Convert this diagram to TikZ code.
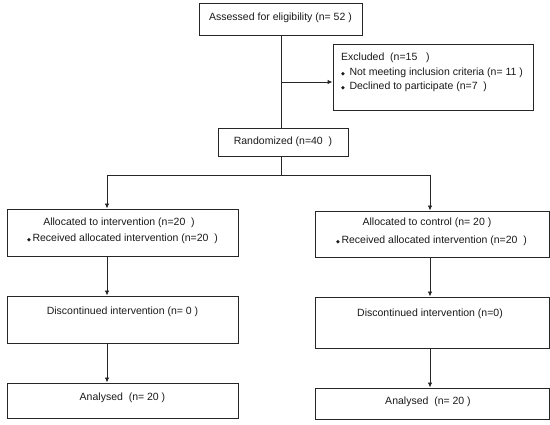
\documentclass[tikz,border=0pt]{standalone}
\usepackage{fontspec}
\setmainfont{Liberation Sans}
\newfontfamily\symf{DejaVu Sans}
\usetikzlibrary{arrows.meta}
\newcommand{\dbul}{{\symf\fontsize{5}{5}\selectfont ◆}}
\begin{document}
\begin{tikzpicture}[x=1pt,y=-1pt,
  box/.style={draw=black!85,line width=0.9pt,rectangle,inner sep=0pt},
  txt/.style={inner sep=0pt,font=\fontsize{10.5}{12}\selectfont,text=black!90},
  arr/.style={draw=black!85,line width=0.9pt,-{Latex[length=5pt,width=4.5pt]}},
  ln/.style={draw=black!85,line width=0.9pt}]
\useasboundingbox (0,0) rectangle (550,425);
% boxes
\node[box,minimum width=163pt,minimum height=32pt] (assess) at (280.5,19) {};
\node[box,minimum width=200pt,minimum height=66pt] (excl) at (433,77) {};
\node[box,minimum width=130pt,minimum height=28pt] (rand) at (283,142) {};
\node[box,minimum width=231pt,minimum height=47pt] (la) at (122.5,232.5) {};
\node[box,minimum width=231pt,minimum height=47pt] (ld) at (122.5,319.5) {};
\node[box,minimum width=231pt,minimum height=35pt] (lan) at (122.5,400.5) {};
\node[box,minimum width=234pt,minimum height=46pt] (ra) at (432,234) {};
\node[box,minimum width=234pt,minimum height=51pt] (rd) at (432,322.5) {};
\node[box,minimum width=234pt,minimum height=31pt] (ran) at (432,403.5) {};
% texts
\node[txt] (t1) at (280.5,18) {Assessed for eligibility (n= 52 )};
\node[txt,anchor=west] (t2) at (341,58) {Excluded \ (n=15 \ \ )};
\node[txt,anchor=west] (t3) at (341,73) {\dbul\hspace{4.5pt}Not meeting inclusion criteria (n= 11 )};
\node[txt,anchor=west] (t4) at (341,87) {\dbul\hspace{4.5pt}Declined to participate (n=7 \ )};
\node[txt] (t5) at (283,142) {Randomized (n=40 \ )};
\node[txt] (t6) at (119,223) {Allocated to intervention (n=20 \ )};
\node[txt,anchor=west] (t7) at (27,239) {\dbul\hspace{1.5pt}Received allocated intervention (n=20 \ )};
\node[txt] (t8) at (122.5,312) {Discontinued intervention (n= 0 )};
\node[txt] (t9) at (122.5,398) {Analysed \ (n= 20 )};
\node[txt] (t10) at (427,223) {Allocated to control (n= 20 )};
\node[txt,anchor=west] (t11) at (336,240.5) {\dbul\hspace{1.5pt}Received allocated intervention (n=20 \ )};
\node[txt] (t12) at (430,314) {Discontinued intervention (n=0)};
\node[txt] (t13) at (428,402) {Analysed \ (n= 20 )};
% connectors
\coordinate (br) at (281,82);
\coordinate (sp) at (281,175);
\coordinate (lc) at (107,175);
\coordinate (rc) at (430,175);
\draw[ln] (assess.south -| br) -- (rand.north -| br);
\draw[arr] (br) -- (br -| excl.west);
\draw[ln] (rand.south -| sp) -- (sp);
\draw[ln] (lc) -- (rc);
\draw[arr] (lc) -- (lc |- la.north);
\draw[arr] (rc) -- (rc |- ra.north);
\draw[arr] (lc |- la.south) -- (lc |- ld.north);
\draw[arr] (lc |- ld.south) -- (lc |- lan.north);
\draw[arr] (rc |- ra.south) -- (rc |- rd.north);
\draw[arr] (rc |- rd.south) -- (rc |- ran.north);
\end{tikzpicture}
\end{document}
